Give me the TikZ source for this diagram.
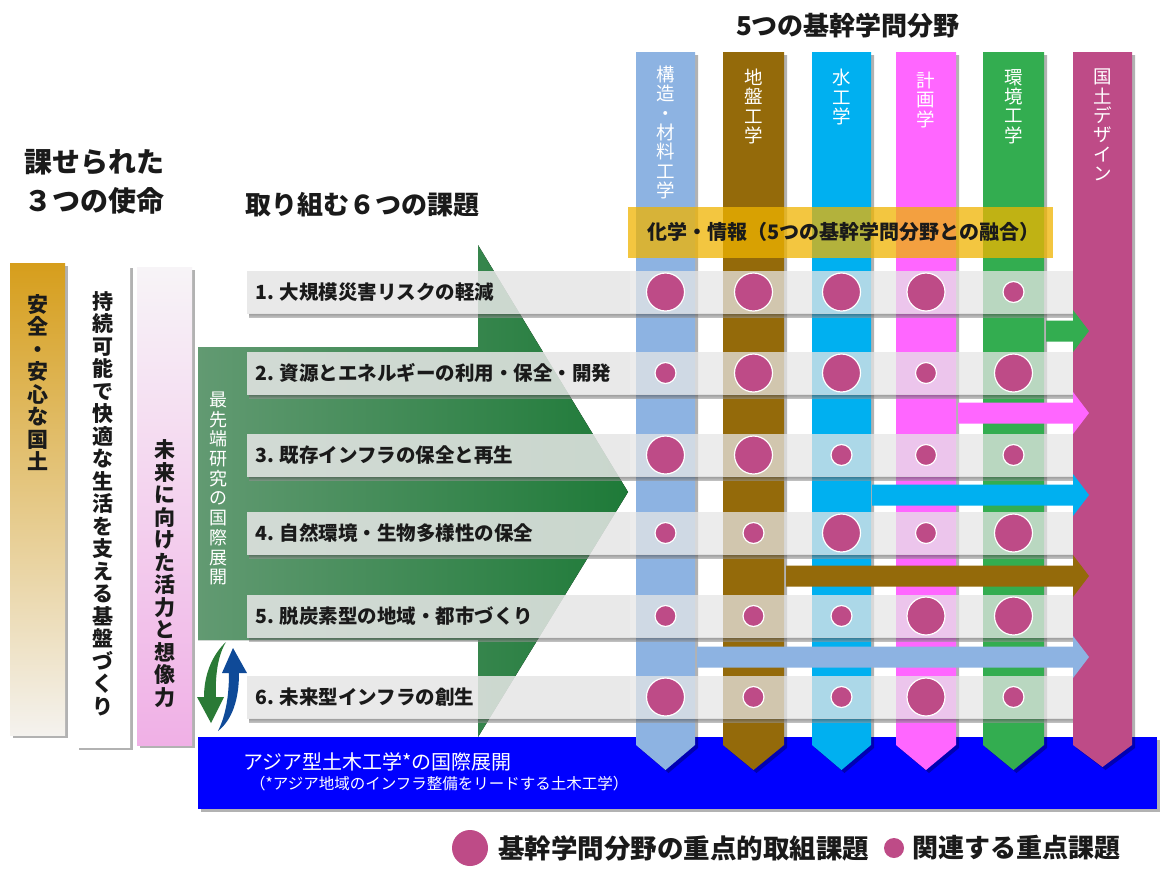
\documentclass[tikz,border=0pt]{standalone}
\usepackage{fontspec}
\setmainfont{Noto Sans CJK JP}
\usetikzlibrary{shadows}
\definecolor{cA}{HTML}{8DB3E2}
\definecolor{cB}{HTML}{946A0A}
\definecolor{cC}{HTML}{00B0F0}
\definecolor{cD}{HTML}{FF66FF}
\definecolor{cE}{HTML}{33AD50}
\definecolor{cF}{HTML}{BE4B87}
\definecolor{ink}{HTML}{1A1A1A}
\definecolor{bandgray}{HTML}{E6E6E6}
\definecolor{goldband}{HTML}{F0B400}
\definecolor{arrL}{HTML}{629A72}
\definecolor{arrR}{HTML}{1E7A38}
\definecolor{asiablue}{HTML}{0000FF}
\definecolor{goldtop}{HTML}{D69E1C}
\definecolor{goldmid}{HTML}{CDB48A}
\definecolor{goldbot}{HTML}{F4F2EE}
\definecolor{greenmid}{HTML}{2DB44B}
\definecolor{pinktop}{HTML}{F7F4F7}
\definecolor{pinkbot}{HTML}{F0B0E6}
\definecolor{rotgreen}{HTML}{2A7A36}
\definecolor{rotblue}{HTML}{0F4A98}
\tikzset{
  shd/.style={drop shadow={shadow xshift=3pt,shadow yshift=-3pt,opacity=0.3,fill=black}},
  vlab/.style={inner sep=0,align=center,text=white,font=\fontsize{18.5}{19.3}\selectfont},
  vmis/.style={inner sep=0,align=center,text=ink,font=\bfseries\fontsize{21}{22.5}\selectfont},
  rowtxt/.style={inner sep=0,anchor=west,text=ink,font=\bfseries\fontsize{19.5}{20}\selectfont},
  rowband/.style={fill=bandgray,fill opacity=0.75},
  rowbandL/.style={fill=bandgray,fill opacity=0.86},
  bandshadow/.style={top color=black!45,bottom color=white,fill opacity=0.35},
  bigdot/.style={circle,fill=cF,draw=white,line width=1.2pt,minimum size=38pt,inner sep=0},
  smalldot/.style={circle,fill=cF,draw=white,line width=1.2pt,minimum size=21pt,inner sep=0},
  headtxt/.style={inner sep=0,text=ink,font=\bfseries\fontsize{26}{30}\selectfont},
  hbar/.style={fill=#1},
}
\begin{document}
\begin{tikzpicture}[x=1pt,y=-1pt]
\useasboundingbox (0,0) rectangle (1165,884);
\fill[white] (0,0) rectangle (1165,884);

% ---- three missions
\fill[shd, top color=goldtop, middle color=goldmid, bottom color=goldbot] (10,263) rectangle (65,735);
\fill[shd, top color=white, middle color=greenmid, bottom color=white] (76,265) rectangle (130,747);
\fill[shd, top color=pinktop, bottom color=pinkbot] (137,267) rectangle (192,745);
\node[vmis] (m1) at (38,382.5) {安\\全\\・\\安\\心\\な\\国\\土};
\node[vmis] (m2) at (103,503.5) {持\\続\\可\\能\\で\\快\\適\\な\\生\\活\\を\\支\\え\\る\\基\\盤\\づ\\く\\り};
\node[vmis] (m3) at (165,573.5) {未\\来\\に\\向\\け\\た\\活\\力\\と\\想\\像\\力};

% ---- headings
\node[headtxt,font=\bfseries\fontsize{28}{39}\selectfont,align=center] (mission) at (94,182) {課せられた\\３つの使命};
\node[headtxt,anchor=west] (tasks) at (245,205) {取り組む６つの課題};
\node[headtxt] (fields) at (848,26) {5つの基幹学問分野};

% ---- big green arrow
\fill[left color=arrL, right color=arrR] (198,347) -- (478,347) -- (478,245) -- (628,492) -- (478,737) -- (478,640) -- (198,640) -- cycle;

% ---- Asia band
\fill[shd, asiablue] (198,737) rectangle (1157,809);
\node[inner sep=0,anchor=west,text=white,font=\fontsize{20}{21}\selectfont] (asia) at (243,762) {アジア型土木工学*の国際展開};
\node[inner sep=0,anchor=west,text=white,font=\fontsize{15.5}{17}\selectfont] (asiasub) at (250,784) {（*アジア地域のインフラ整備をリードする土木工学）};

% ---- five field columns
\foreach \xl/\xr/\cc in {636/695/cA, 723/784/cB, 812/871/cC, 896/956/cD, 983/1044/cE}
  \fill[shd,\cc] (\xl,52) -- (\xr,52) -- (\xr,745) -- ({(\xl+\xr)/2},770) -- (\xl,745) -- cycle;

% ---- chemistry / information band
\fill[goldband, fill opacity=0.75] (628,207) rectangle (1053,258);
\node[inner sep=0,anchor=west,text=ink,font=\bfseries\fontsize{20}{21}\selectfont] (fusion) at (647,232) {化学・情報（5つの基幹学問分野との融合）};

% ---- task bands
\foreach \y in {292,373,455,533,616,697}{
  \fill[bandshadow] (249,\y+21.5) rectangle (1073,\y+25.5);
  \fill[rowbandL] (247,\y-21.5) rectangle (630,\y+21.5);
  \fill[rowband] (630,\y-21.5) rectangle (1073,\y+21.5);
}

% ---- national design column
\fill[shd,cF] (1073,52) -- (1132,52) -- (1132,745) -- (1102.5,767) -- (1073,745) -- cycle;

% ---- horizontal arrows into national design
\foreach \xs/\yc/\cc in {1046/331/cE, 958/413/cD, 872/495/cC, 786/576/cB, 697/657/cA}
  \fill[hbar=\cc] (\xs,\yc-10.5) -- (1073,\yc-10.5) -- (1073,\yc-21) -- (1089,\yc) -- (1073,\yc+21) -- (1073,\yc+10.5) -- (\xs,\yc+10.5) -- cycle;

% ---- dots
\foreach \r/\y/\a/\b/\c/\d/\e in {1/292/bigdot/bigdot/bigdot/bigdot/smalldot,
  2/373/smalldot/bigdot/bigdot/smalldot/bigdot,
  3/455/bigdot/bigdot/smalldot/smalldot/smalldot,
  4/533/smalldot/smalldot/bigdot/smalldot/bigdot,
  5/616/smalldot/smalldot/smalldot/bigdot/bigdot,
  6/697/bigdot/smalldot/smalldot/bigdot/smalldot}{
  \node[\a] (d\r a) at (665.5,\y) {};
  \node[\b] (d\r b) at (753.5,\y) {};
  \node[\c] (d\r c) at (841.5,\y) {};
  \node[\d] (d\r d) at (926,\y) {};
  \node[\e] (d\r e) at (1013.5,\y) {};
}

% ---- task texts
\node[rowtxt] (t1) at (255,292) {1. 大規模災害リスクの軽減};
\node[rowtxt] (t2) at (255,373) {2. 資源とエネルギーの利用・保全・開発};
\node[rowtxt] (t3) at (255,455) {3. 既存インフラの保全と再生};
\node[rowtxt] (t4) at (255,533) {4. 自然環境・生物多様性の保全};
\node[rowtxt] (t5) at (255,616) {5. 脱炭素型の地域・都市づくり};
\node[rowtxt] (t6) at (255,697) {6. 未来型インフラの創生};

% ---- column labels
\node[vlab] (f1) at (665.5,132.5) {構\\造\\・\\材\\料\\工\\学};
\node[vlab] (f2) at (753.5,106.5) {地\\盤\\工\\学};
\node[vlab] (f3) at (841.5,97) {水\\工\\学};
\node[vlab] (f4) at (926,100) {計\\画\\学};
\node[vlab] (f5) at (1013.5,106.5) {環\\境\\工\\学};
\node[vlab] (f6) at (1102.5,125) {国\\土\\デ\\ザ\\イ\\ン};

\node[inner sep=0,align=center,text=white,font=\fontsize{18}{19.7}\selectfont] (adv) at (218,488.5) {最\\先\\端\\研\\究\\の\\国\\際\\展\\開};

% ---- cycle arrows
\fill[rotgreen] (226,642) .. controls (212,655) and (204,675) .. (204,697) -- (197,697) -- (211,723) -- (224,697) -- (216,697) .. controls (215,675) and (218,655) .. (226,642) -- cycle;
\fill[rotblue] (233,648) -- (247,673) -- (239,673) .. controls (239,700) and (232,720) .. (218,731) .. controls (226,715) and (229,695) .. (229,673) -- (222,673) -- cycle;

% ---- legend
\node[circle,fill=cF,minimum size=36pt,inner sep=0] (lgbig) at (470,848) {};
\node[inner sep=0,anchor=west,text=ink,font=\bfseries\fontsize{26.5}{30}\selectfont] (lgbigt) at (498,848) {基幹学問分野の重点的取組課題};
\node[circle,fill=cF,minimum size=20pt,inner sep=0] (lgsmall) at (894,848) {};
\node[inner sep=0,anchor=west,text=ink,font=\bfseries\fontsize{26}{30}\selectfont] (lgsmallt) at (912,848) {関連する重点課題};
\end{tikzpicture}
\end{document}
